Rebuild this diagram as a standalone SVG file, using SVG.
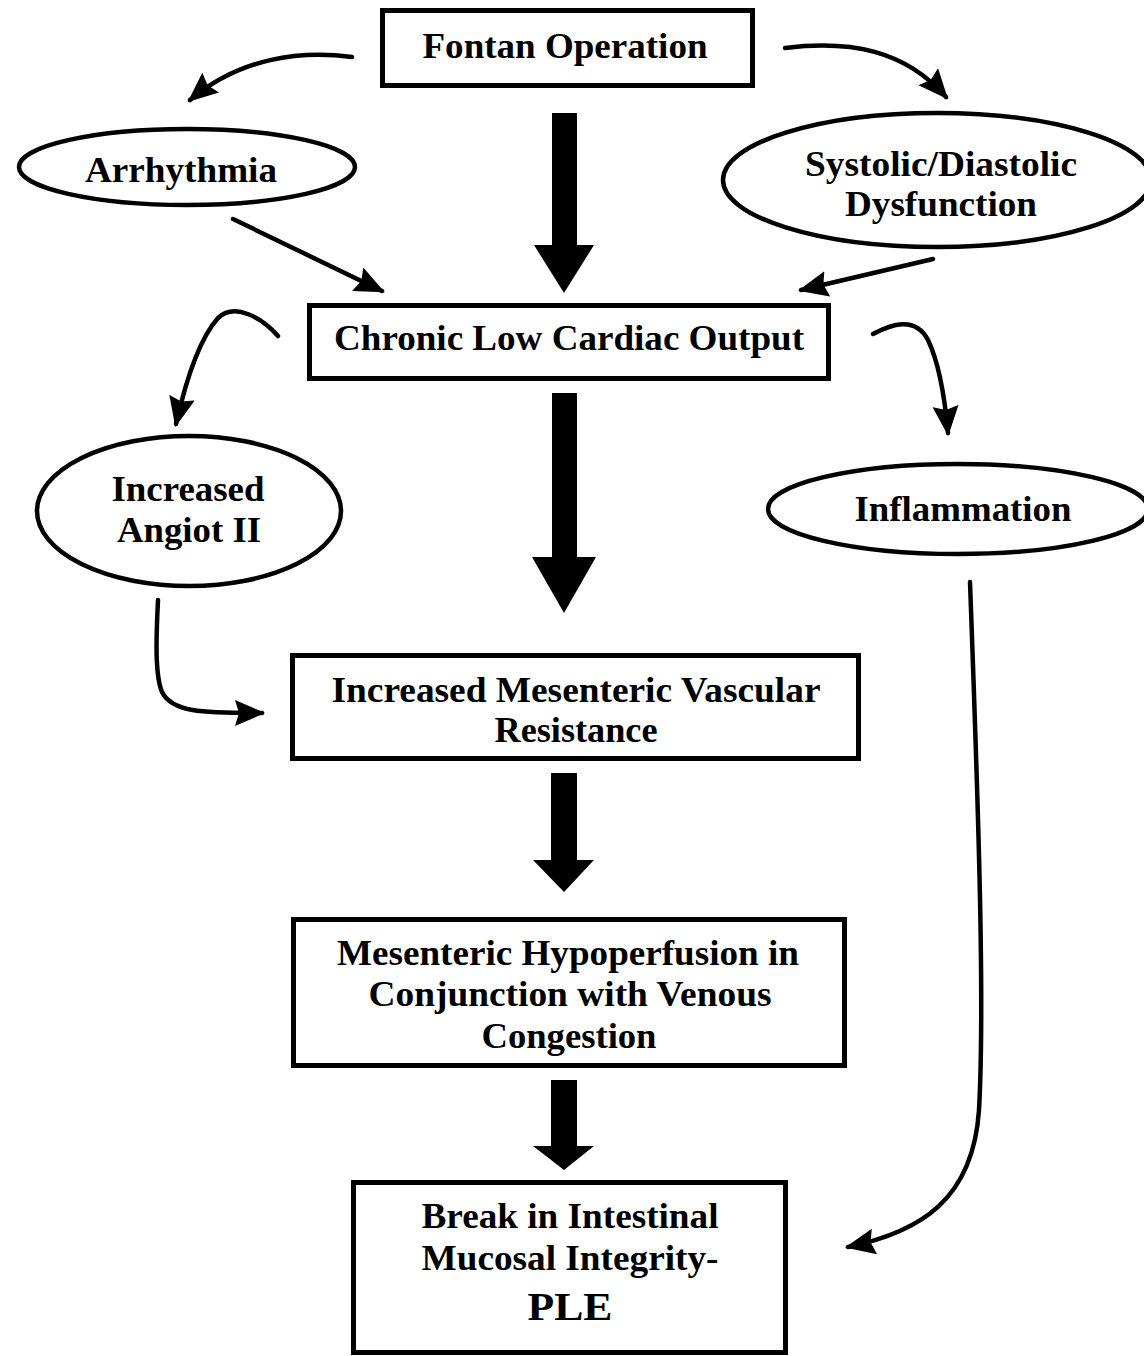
<svg xmlns="http://www.w3.org/2000/svg" width="1144" height="1356" viewBox="0 0 1144 1356">
<style>
.box{fill:#fff;stroke:#000;stroke-width:5}
.ell{fill:#fff;stroke:#000;stroke-width:4.5}
.t{font-family:"Liberation Serif","Times New Roman",serif;font-weight:bold;font-size:36px;fill:#000;text-anchor:middle}
.c{fill:none;stroke:#000;stroke-width:4.5;stroke-linecap:round}
.big{fill:#000}
</style>
<defs>
<marker id="ah" markerUnits="userSpaceOnUse" viewBox="0 0 30 26" markerWidth="30" markerHeight="26" refX="27" refY="13" orient="auto">
<path d="M0,0 L30,13 L0,26 L4,13 z" fill="#000"/>
</marker>
</defs>
<rect width="1144" height="1356" fill="#fff"/>
<g id="connectors">
<path class="big" d="M552,113 H577 V245 H594 L564,293 L534,245 H552 Z"/>
<path class="big" d="M552,393 H577 V557 H596 L564,613 L532,557 H552 Z"/>
<path class="big" d="M551,773 H577 V860 H594 L564,892 L533,860 H551 Z"/>
<path class="big" d="M551,1080 H577 V1146 H594 L564,1170 L533,1146 H551 Z"/>
<path class="c" marker-end="url(#ah)" d="M352,57 C 300,50 240,58 190,100"/>
<path class="c" marker-end="url(#ah)" d="M785,48 C 850,40 905,50 946,97"/>
<path class="c" marker-end="url(#ah)" d="M233,219 L382,291"/>
<path class="c" marker-end="url(#ah)" d="M933,259 L801,290"/>
<path class="c" marker-end="url(#ah)" d="M278,336 C 262,318 235,302 218,318 C 200,338 186,380 176,424"/>
<path class="c" marker-end="url(#ah)" d="M873,334 C 890,325 915,315 928,340 C 940,365 945,400 948,433"/>
<path class="c" marker-end="url(#ah)" d="M158,600 C 156,640 155,675 162,692 C 172,712 200,713 262,713"/>
<path class="c" marker-end="url(#ah)" d="M970,582 C 978,800 985,1000 979,1110 C 973,1200 920,1232 848,1247"/>
</g>
<g id="fontan">
<rect class="box" x="382.5" y="10.5" width="370" height="75"/>
<text class="t" x="565" y="58" textLength="285" lengthAdjust="spacingAndGlyphs">Fontan Operation</text>
</g>
<g id="arrhythmia">
<ellipse class="ell" cx="187" cy="167" rx="168" ry="38"/>
<text class="t" x="181" y="182" textLength="192" lengthAdjust="spacingAndGlyphs">Arrhythmia</text>
</g>
<g id="dysfunction">
<ellipse class="ell" cx="937" cy="180" rx="214" ry="67"/>
<text class="t" x="941" y="176" textLength="272" lengthAdjust="spacingAndGlyphs">Systolic/Diastolic</text>
<text class="t" x="941" y="216" textLength="192" lengthAdjust="spacingAndGlyphs">Dysfunction</text>
</g>
<g id="chronic">
<rect class="box" x="309.5" y="305.5" width="519" height="73"/>
<text class="t" x="569" y="350" textLength="470" lengthAdjust="spacingAndGlyphs">Chronic Low Cardiac Output</text>
</g>
<g id="angiot">
<ellipse class="ell" cx="189" cy="511" rx="152" ry="75"/>
<text class="t" x="188" y="501" textLength="153" lengthAdjust="spacingAndGlyphs">Increased</text>
<text class="t" x="189" y="542" textLength="144" lengthAdjust="spacingAndGlyphs">Angiot II</text>
</g>
<g id="inflammation">
<ellipse class="ell" cx="958" cy="509" rx="190" ry="45"/>
<text class="t" x="963" y="521" textLength="217" lengthAdjust="spacingAndGlyphs">Inflammation</text>
</g>
<g id="resistance">
<rect class="box" x="292.5" y="655.5" width="566" height="103"/>
<text class="t" x="576" y="702" textLength="489" lengthAdjust="spacingAndGlyphs">Increased Mesenteric Vascular</text>
<text class="t" x="576" y="742" textLength="163" lengthAdjust="spacingAndGlyphs">Resistance</text>
</g>
<g id="hypoperfusion">
<rect class="box" x="293.5" y="919.5" width="551" height="146"/>
<text class="t" x="568" y="965" textLength="462" lengthAdjust="spacingAndGlyphs">Mesenteric Hypoperfusion in</text>
<text class="t" x="570" y="1006" textLength="403" lengthAdjust="spacingAndGlyphs">Conjunction with Venous</text>
<text class="t" x="569" y="1048" textLength="175" lengthAdjust="spacingAndGlyphs">Congestion</text>
</g>
<g id="ple">
<rect class="box" x="353.5" y="1182.5" width="432" height="170"/>
<text class="t" x="570" y="1228" textLength="297" lengthAdjust="spacingAndGlyphs">Break in Intestinal</text>
<text class="t" x="570" y="1270" textLength="297" lengthAdjust="spacingAndGlyphs">Mucosal Integrity-</text>
<text class="t" x="570" y="1320" style="font-size:40px" textLength="85" lengthAdjust="spacingAndGlyphs">PLE</text>
</g>
</svg>
